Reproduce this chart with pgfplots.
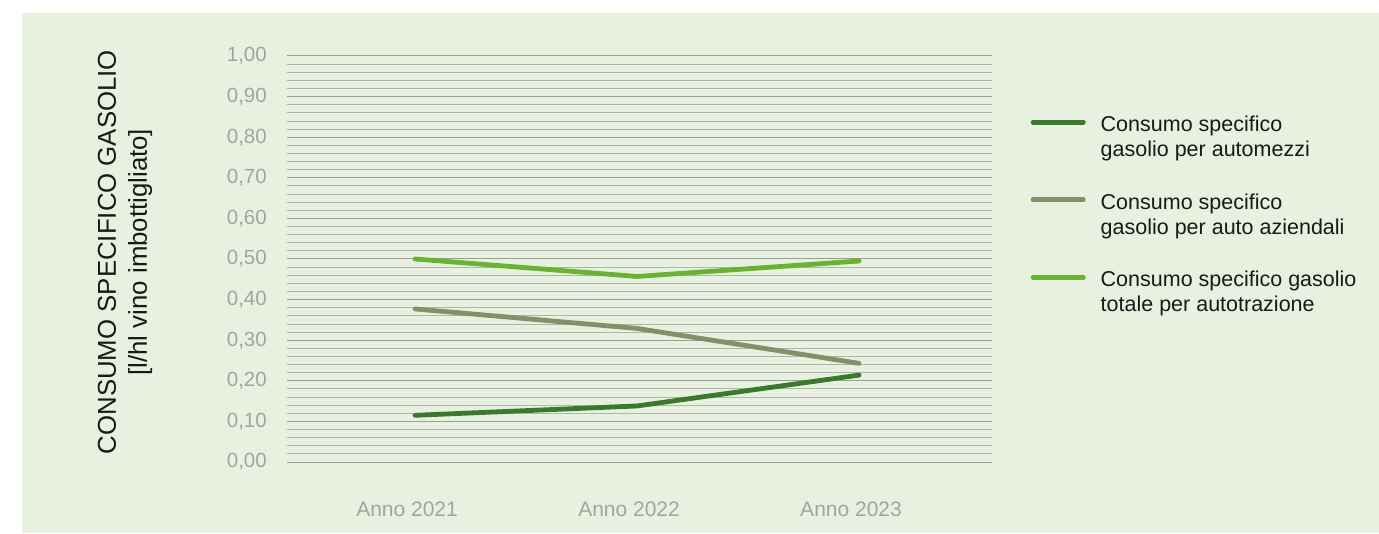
\documentclass[border=0pt]{standalone}
\usepackage{pgfplots}
\pgfplotsset{compat=1.18}
\usepackage{fontspec}
\setmainfont{Liberation Sans}

\definecolor{bg}{HTML}{E8F1DF}
\definecolor{darkgreen}{HTML}{3B7A2B}
\definecolor{greygreen}{HTML}{858F6A}
\definecolor{lightgreen}{HTML}{68B42F}
\definecolor{ticktext}{HTML}{A3A3A3}
\definecolor{majgrid}{HTML}{9C9C9C}
\definecolor{mingrid}{HTML}{B2B2B2}

\begin{document}
\begin{tikzpicture}[x=1pt,y=1pt]
\fill[white] (0,0) rectangle (1379,533);
\fill[bg] (22,0) rectangle (1379,520);
\begin{axis}[
    at={(287pt,71pt)}, anchor=south west,
    scale only axis, width=705pt, height=406pt,
    xmin=-0.577, xmax=2.599, ymin=0, ymax=1,
    xtick={0,1,2},
    xticklabels={Anno 2021, Anno 2022, Anno 2023},
    ytick distance=0.1, minor y tick num=4,
    ymajorgrids, yminorgrids,
    major grid style={majgrid, line width=1pt},
    minor grid style={mingrid, line width=0.9pt},
    axis line style={draw=none},
    major tick length=0pt, minor tick length=0pt,
    /pgf/number format/fixed,
    /pgf/number format/fixed zerofill,
    /pgf/number format/precision=2,
    /pgf/number format/use comma,
    /pgf/number format/assume math mode=true,
    xticklabel style={font=\fontsize{21}{25}\selectfont, text=ticktext, anchor=base, yshift=-54pt, xshift=-8pt},
    yticklabel style={font=\fontsize{20.5}{24}\selectfont, text=ticktext, anchor=east, inner sep=0pt, xshift=-20pt},
    ylabel={CONSUMO SPECIFICO GASOLIO\\{}[l/hl vino imbottigliato]},
    ylabel style={at={(rel axis cs:-0.2298,0.517)}, anchor=center, align=center,
        font=\fontsize{25.8}{31}\selectfont, text=black!90},
    legend style={draw=none, fill=none, at={(rel axis cs:1.0549,0.852)}, anchor=north west,
        inner sep=0pt, outer sep=0pt, font=\fontsize{21.5}{25}\selectfont, text=black!90,
        nodes={inner sep=0pt}, row sep=35.5pt, cells={anchor=west, align=left},
        /tikz/every odd column/.append style={column sep=15pt}},
    legend image code/.code={\draw[#1, line width=4.8pt, line cap=round] (2.4pt,15pt) -- (52.6pt,15pt);},
]
\addplot[darkgreen, line width=4.8pt, line cap=round, line join=round] coordinates {(0,0.115) (1,0.138) (2,0.214)};
\addlegendentry{Consumo specifico\\gasolio per automezzi}
\addplot[greygreen, line width=4.8pt, line cap=round, line join=round] coordinates {(0,0.377) (1,0.329) (2,0.243)};
\addlegendentry{Consumo specifico\\gasolio per auto aziendali}
\addplot[lightgreen, line width=4.8pt, line cap=round, line join=round] coordinates {(0,0.500) (1,0.457) (2,0.495)};
\addlegendentry{Consumo specifico gasolio\\totale per autotrazione}
\end{axis}
\end{tikzpicture}
\end{document}
